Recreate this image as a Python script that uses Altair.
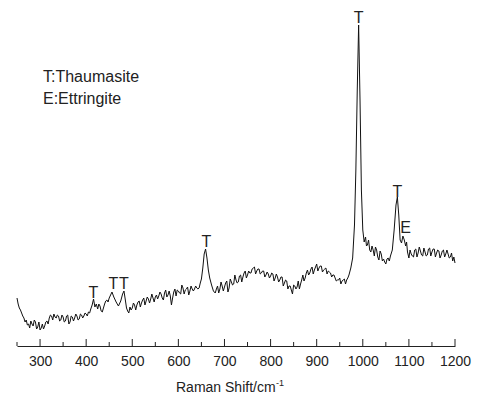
import altair as alt
import pandas as pd

# Raman spectrum, split into regions
shift_a = [250, 252.5, 255, 257.5, 260, 262.5, 265, 267.5, 270, 272.5, 275, 277.5, 280, 282.5, 285, 287.5,
           290, 292.5, 295, 297.5, 300, 302.5, 305, 307.5, 310, 312.5, 315, 317.5, 320, 322.5, 325, 327.5,
           330, 332.5, 335, 337.5, 340, 342.5, 345, 347.5, 350, 352.5, 355, 357.5, 360, 362.5, 365, 367.5,
           370, 372.5, 375, 377.5, 380, 382.5, 385, 387.5, 390, 392.5, 395, 397.5, 400, 402.5, 405, 407.5, 410]
int_a = [48, 42, 38, 36, 33, 30, 28, 24, 26, 21, 22, 18, 25, 22, 20, 26,
         24, 17, 19, 24, 16, 18, 22, 17, 20, 24, 25, 22, 28, 31, 30, 26,
         32, 29, 28, 31, 30, 25, 26, 31, 29, 24, 25, 30, 31, 22, 24, 30,
         29, 25, 28, 32, 30, 26, 27, 32, 31, 28, 30, 33, 32, 30, 34, 33, 37]

shift_b = [413, 416, 419, 422, 425, 427.5, 430, 432.5, 435, 437.5, 440, 442.5, 445, 447.5, 450, 453,
           456, 460, 465, 470, 475, 479, 482, 485, 487.5, 490, 492.5, 495, 497.5]
int_b = [41, 47, 39, 42, 37, 42, 40, 35, 34, 38, 42, 45, 46, 44, 48, 51,
         54, 49, 44, 40, 45, 52, 55, 46, 38, 35, 33, 39, 36]

shift_c = [500, 502.5, 505, 507.5, 510, 512.5, 515, 517.5, 520, 522.5, 525, 527.5, 530, 532.5, 535, 537.5,
           540, 542.5, 545, 547.5, 550, 552.5, 555, 557.5, 560, 562.5, 565, 567.5, 570, 572.5, 575, 577.5,
           580, 582.5, 585, 587.5, 590, 592.5, 595, 597.5, 600, 602.5, 605, 607.5, 610, 612.5, 615, 617.5,
           620, 622.5, 625, 627.5, 630, 632.5, 635, 637.5, 640, 642.5, 645, 647.5]
int_c = [38, 43, 41, 36, 41, 44, 45, 39, 43, 46, 48, 41, 45, 49, 47, 43,
         47, 52, 48, 44, 49, 51, 47, 50, 54, 52, 48, 46, 53, 56, 49, 51,
         55, 50, 41, 48, 54, 57, 50, 56, 55, 53, 52, 61, 58, 52, 56, 57,
         59, 51, 55, 60, 57, 55, 57, 60, 58, 57, 58, 63]

shift_d = [650, 653, 656, 659, 662, 665, 668, 672, 676, 680]
int_d = [67, 78, 92, 97, 88, 76, 68, 61, 55, 53]

shift_e = [682.5, 685, 687.5, 690, 692.5, 695, 697.5, 700, 702.5, 705, 707.5, 710, 712.5, 715, 717.5, 720,
           722.5, 725, 727.5, 730, 732.5, 735, 737.5, 740, 742.5, 745, 747.5, 750, 752.5, 755, 757.5, 760,
           762.5, 765, 767.5, 770, 772.5, 775, 777.5, 780, 782.5, 785, 787.5, 790, 792.5, 795, 797.5, 800,
           802.5, 805, 807.5, 810, 812.5, 815, 817.5, 820, 822.5, 825, 827.5, 830, 832.5, 835, 837.5, 840,
           842.5, 845, 847.5, 850, 852.5, 855, 857.5, 860, 862.5, 865, 867.5, 870, 872.5, 875, 877.5, 880,
           882.5, 885, 887.5, 890, 892.5, 895, 897.5, 900, 902.5, 905, 907.5, 910, 912.5, 915, 917.5, 920,
           922.5, 925, 927.5, 930, 932.5, 935, 937.5, 940, 942.5, 945, 947.5, 950, 952.5, 955, 957.5, 960,
           962.5, 965, 967.5, 970]
int_e = [57, 60, 53, 57, 64, 60, 55, 59, 63, 65, 54, 58, 67, 64, 61, 62,
         71, 66, 63, 64, 70, 71, 64, 69, 73, 75, 68, 71, 75, 73, 73, 77,
         78, 79, 72, 75, 77, 77, 72, 73, 75, 75, 69, 71, 74, 72, 68, 70,
         73, 72, 65, 68, 72, 69, 64, 66, 69, 69, 60, 63, 66, 65, 57, 60,
         60, 56, 52, 61, 60, 57, 59, 65, 57, 62, 66, 71, 65, 68, 73, 76,
         71, 73, 77, 79, 72, 76, 79, 82, 75, 78, 80, 80, 74, 76, 77, 78,
         72, 75, 74, 73, 69, 71, 71, 68, 65, 66, 66, 68, 62, 65, 66, 67,
         62, 66, 68, 71]

shift_f = [974, 978, 982, 985, 988, 991, 994, 997, 1000, 1003, 1006]
int_f = [78, 88, 121, 176, 256, 321, 246, 156, 116, 104, 109]

shift_g = [1008, 1010, 1012.5, 1015, 1017.5, 1020, 1022.5, 1025, 1027.5, 1030, 1032.5, 1035, 1037.5, 1040,
           1042.5, 1045, 1047.5, 1050, 1052.5, 1055, 1057.5, 1060]
int_g = [100, 101, 106, 96, 94, 100, 96, 90, 99, 96, 89, 86, 95, 92,
         85, 87, 84, 82, 87, 88, 85, 90]

shift_h = [1064, 1068, 1072, 1075, 1078, 1081, 1084, 1087, 1090, 1093, 1095, 1097]
int_h = [96, 116, 141, 149, 131, 106, 103, 110, 106, 100, 104, 94]

shift_i = [1100, 1102.5, 1105, 1107.5, 1110, 1112.5, 1115, 1117.5, 1120, 1122.5, 1125, 1127.5, 1130, 1132.5,
           1135, 1137.5, 1140, 1142.5, 1145, 1147.5, 1150, 1152.5, 1155, 1157.5, 1160, 1162.5, 1165, 1167.5,
           1170, 1172.5, 1175, 1177.5, 1180, 1182.5, 1185, 1187.5, 1190, 1192.5, 1195, 1197.5, 1200]
int_i = [88, 96, 92, 90, 89, 96, 97, 89, 93, 99, 95, 91, 90, 98,
         94, 90, 91, 97, 98, 90, 94, 97, 97, 89, 93, 96, 95, 88,
         91, 95, 96, 89, 92, 96, 92, 88, 89, 93, 85, 89, 83]

# Peak annotations
peak_text = ["T", "T", "T", "T", "T", "T", "E"]
peak_x = [415.5, 459, 482, 661, 991, 1075, 1093]
peak_y = [48, 57, 57, 99, 323, 149, 113]

legend_lines = ["T:Thaumasite", "E:Ettringite"]

major_ticks = [300, 400, 500, 600, 700, 800, 900, 1000, 1100, 1200]
minor_ticks = [250, 350, 450, 550, 650, 750, 850, 950, 1050, 1150]

shift = shift_a + shift_b + shift_c + shift_d + shift_e + shift_f + shift_g + shift_h + shift_i
intensity = int_a + int_b + int_c + int_d + int_e + int_f + int_g + int_h + int_i
assert len(shift) == len(intensity)

spec = pd.DataFrame({"shift": shift, "intensity": intensity})
peaks = pd.DataFrame({"label": peak_text, "shift": peak_x, "y": peak_y})
majors = pd.DataFrame({"shift": major_ticks})
minors = pd.DataFrame({"shift": minor_ticks})

FONT = "Liberation Sans"
W, H = 438, 330
INK = "#222222"

xscale = alt.Scale(domain=[250, 1200], nice=False, zero=False)
yscale = alt.Scale(domain=[0, 330], nice=False, zero=True)

line = alt.Chart(spec).mark_line(color="#111111", strokeWidth=1).encode(
    x=alt.X("shift:Q", scale=xscale,
            axis=alt.Axis(values=major_ticks, format="d", title=None, grid=False, ticks=False,
                          labelPadding=8, labelFont=FONT, labelFontSize=14,
                          labelColor=INK, domainColor=INK, domainWidth=1,
                          labelFlush=False)),
    y=alt.Y("intensity:Q", scale=yscale, axis=None),
)

major = alt.Chart(majors).mark_rule(color=INK, strokeWidth=1).encode(
    x=alt.X("shift:Q", scale=xscale),
    y=alt.value(H),
    y2=alt.value(H - 7),
)
minor = alt.Chart(minors).mark_rule(color=INK, strokeWidth=1).encode(
    x=alt.X("shift:Q", scale=xscale),
    y=alt.value(H),
    y2=alt.value(H - 4),
)

labels = alt.Chart(peaks).mark_text(font=FONT, fontSize=16, color=INK,
                                    baseline="alphabetic", align="center").encode(
    x=alt.X("shift:Q", scale=xscale),
    y=alt.Y("y:Q", scale=yscale),
    text="label:N",
)

leg1 = alt.Chart(pd.DataFrame({"t": [legend_lines[0]]})).mark_text(
    font=FONT, fontSize=16, color=INK, align="left", baseline="alphabetic"
).encode(x=alt.value(26), y=alt.value(66), text="t:N")
leg2 = alt.Chart(pd.DataFrame({"t": [legend_lines[1]]})).mark_text(
    font=FONT, fontSize=16, color=INK, align="left", baseline="alphabetic"
).encode(x=alt.value(26), y=alt.value(88), text="t:N")

title_main = alt.Chart(pd.DataFrame({"t": ["Raman Shift/cm"]})).mark_text(
    font=FONT, fontSize=14, color=INK, align="left", baseline="alphabetic"
).encode(x=alt.value(159), y=alt.value(376), text="t:N")
title_sup = alt.Chart(pd.DataFrame({"t": ["-1"]})).mark_text(
    font=FONT, fontSize=9, color=INK, align="left", baseline="alphabetic"
).encode(x=alt.value(259), y=alt.value(370), text="t:N")

chart = alt.layer(line, major, minor, labels, leg1, leg2, title_main, title_sup).properties(
    width=W, height=H,
    padding={"left": 17, "top": 16, "right": 23, "bottom": 55},
    autosize="none",
    background="white",
).configure_view(stroke=None)

chart.save("out.html", embed_options={"renderer": "svg", "actions": False})
